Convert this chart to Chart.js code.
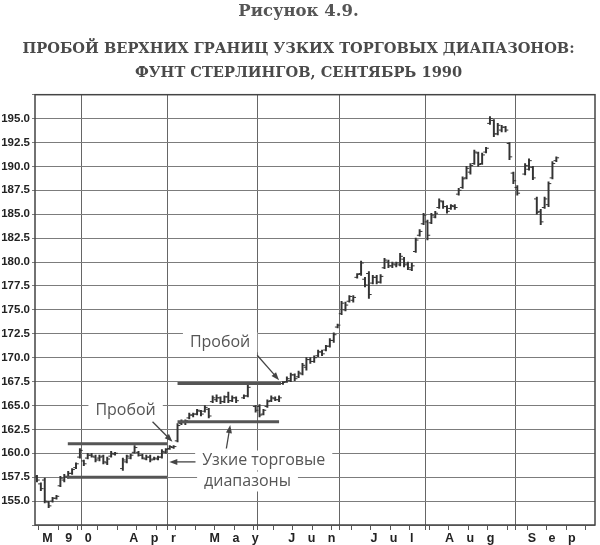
<!DOCTYPE html>
<html>
<head>
<meta charset="utf-8">
<script src="https://cdn.jsdelivr.net/npm/chart.js@4.4.1/dist/chart.umd.min.js"></script>
<style>
  html, body { margin: 0; padding: 0; background: #fff; }
  #wrap { width: 600px; height: 545px; }
</style>
</head>
<body>
<div id="wrap"><canvas id="chart"></canvas></div>
<script>
// --- DATA (x = trading day index from mid-March 1990) ---

const days = [0, 1, 2, 3, 4, 5, 6, 7, 8, 9, 10, 11, 12, 13, 14, 15, 16, 17, 18, 19, 20,
  22, 23, 24, 25, 26, 27, 28, 29, 30, 31, 32, 33, 34, 35, 36, 37, 38, 39, 40, 41, 42, 43, 44,
  45, 46, 47, 48, 49, 50, 51, 53, 54, 56, 57, 58, 59, 60, 61, 62, 63, 64, 65, 66, 67, 68, 69,
  70, 71, 72, 73, 74, 75, 76, 77, 78, 79, 80, 81, 82, 83, 84, 85, 86, 87, 88, 89, 90, 91, 92,
  93, 94, 95, 96, 97, 98, 99, 100, 101, 102, 103, 104, 105, 106, 107, 108, 109, 110, 111, 112,
  113, 114, 115, 116, 117, 118, 119, 120, 121, 122, 123, 125, 126, 127, 128, 129, 130, 131, 132, 133];

const opens = [157.6, 156.8, 157.2, 154.9, 155.0, 155.3, 156.6, 157.2, 157.5, 157.9, 158.5, 159.6, 159.2, 159.5, 159.8, 159.6, 159.5, 159.7, 159.0, 159.7, 159.9,
  158.4, 159.1, 159.5, 160.1, 160.1, 159.8, 159.4, 159.6, 159.4, 159.4, 159.6, 160.1, 160.5, 160.6, 161.3, 163.1, 163.2, 163.7, 164.0, 164.1, 164.4, 164.4, 164.6,
  165.4, 165.6, 165.8, 165.4, 165.9, 165.5, 165.8, 165.8, 166.0, 164.9, 164.9, 164.1, 164.9, 165.5, 165.7, 165.6, 167.3, 167.5, 167.6, 168.2, 168.0, 168.3, 169.0,
  169.8, 169.6, 170.2, 170.6, 170.8, 171.2, 171.8, 173.2, 174.6, 175.0, 175.9, 176.0, 178.4, 178.8, 178.2, 178.8, 177.8, 178.4, 177.9, 179.4, 180.0, 179.6, 179.7,
  179.7, 180.3, 179.8, 179.2, 181.1, 182.8, 184.0, 184.2, 184.1, 184.7, 185.7, 186.3, 185.8, 185.6, 185.8, 187.1, 187.8, 188.8, 189.4, 190.3,
  191.4, 190.3, 191.5, 194.5, 194.8, 193.4, 193.8, 194.1, 192.4, 189.3, 187.8, 189.2, 189.7, 189.9, 186.6, 185.3, 185.7, 186.0, 188.8, 190.6];

const highs = [157.7, 156.9, 157.4, 155.0, 155.4, 155.6, 157.6, 157.8, 158.1, 158.4, 159.0, 160.5, 159.3, 160.0, 160.0, 159.8, 159.8, 159.8, 159.6, 160.2, 160.1,
  159.5, 159.8, 159.9, 160.8, 160.2, 159.9, 159.8, 159.8, 159.6, 159.7, 160.4, 160.5, 160.8, 160.8, 163.1, 163.5, 163.5, 164.2, 164.2, 164.6, 164.5, 165.0, 164.7,
  166.0, 166.1, 165.9, 166.0, 166.4, 166.0, 165.9, 166.1, 167.1, 165.0, 165.1, 164.6, 165.6, 166.0, 165.9, 166.0, 167.5, 168.0, 168.4, 168.3, 168.6, 169.4, 170.0,
  170.0, 170.2, 170.8, 170.8, 171.3, 172.0, 172.6, 173.5, 175.9, 175.8, 176.5, 176.5, 178.8, 180.1, 178.4, 179.0, 178.6, 178.6, 178.7, 180.4, 180.2, 180.0, 180.0,
  180.9, 180.5, 180.0, 179.9, 182.5, 183.4, 185.1, 184.4, 185.1, 185.3, 186.6, 186.4, 185.9, 186.0, 186.0, 187.7, 188.9, 190.0, 190.3, 191.7,
  191.5, 191.4, 192.0, 195.2, 194.9, 194.5, 194.3, 194.2, 192.5, 189.4, 188.0, 190.3, 190.8, 190.0, 186.8, 185.5, 186.8, 188.4, 190.5, 191.0];

const lows = [157.0, 156.1, 154.8, 154.3, 154.9, 155.2, 156.5, 157.0, 157.4, 157.8, 158.4, 159.5, 158.7, 159.4, 159.6, 159.1, 159.2, 158.9, 158.8, 159.6, 159.8,
  158.2, 159.0, 159.4, 160.0, 159.7, 159.4, 159.3, 159.1, 159.3, 159.3, 159.5, 160.0, 160.4, 160.5, 161.2, 163.0, 163.0, 163.6, 163.8, 164.0, 163.9, 164.3, 163.7,
  165.3, 165.4, 165.2, 165.3, 165.3, 165.4, 165.3, 165.7, 165.9, 164.3, 163.8, 164.0, 164.8, 165.4, 165.5, 165.4, 167.2, 167.4, 167.5, 167.6, 167.9, 168.2, 168.7,
  169.4, 169.5, 170.1, 170.2, 170.7, 171.1, 171.6, 173.1, 174.5, 174.9, 175.8, 175.8, 178.3, 178.6, 177.4, 176.2, 177.7, 177.7, 177.8, 179.3, 179.4, 179.4, 179.5,
  179.6, 179.5, 179.2, 179.1, 181.0, 182.7, 183.9, 182.3, 184.0, 184.6, 185.6, 185.6, 185.1, 185.5, 185.5, 187.0, 187.7, 188.7, 189.2, 190.2,
  190.0, 190.2, 191.4, 194.4, 193.1, 193.3, 193.6, 193.6, 190.7, 188.2, 187.0, 189.1, 189.6, 188.6, 185.0, 183.9, 185.6, 185.8, 188.7, 190.5];

const closes = [157.2, 156.3, 155.0, 154.5, 155.3, 155.5, 157.4, 157.6, 157.9, 158.3, 158.9, 160.3, 158.9, 159.8, 159.7, 159.3, 159.6, 159.1, 159.4, 160.0, 160.0,
  159.3, 159.7, 159.8, 160.6, 159.8, 159.5, 159.6, 159.3, 159.5, 159.6, 160.2, 160.4, 160.7, 160.7, 162.9, 163.3, 163.4, 164.0, 164.1, 164.5, 164.1, 164.8, 163.9,
  165.8, 165.8, 165.4, 165.9, 165.5, 165.8, 165.5, 166.0, 166.9, 164.5, 164.0, 164.5, 165.4, 165.8, 165.6, 165.8, 167.4, 167.8, 168.2, 167.8, 168.4, 169.2, 169.8,
  169.6, 170.0, 170.6, 170.4, 171.2, 171.8, 172.4, 173.4, 175.7, 175.5, 176.4, 176.3, 178.7, 179.9, 177.6, 176.6, 178.4, 177.9, 178.5, 180.2, 179.6, 179.8, 179.9,
  180.6, 179.7, 179.4, 179.6, 182.3, 183.2, 184.9, 182.8, 184.9, 185.1, 186.4, 185.8, 185.3, 185.9, 185.7, 187.5, 188.7, 189.8, 190.1, 191.5,
  190.2, 191.2, 191.9, 195.0, 193.4, 194.3, 194.1, 193.8, 191.0, 188.5, 187.2, 190.1, 190.6, 188.8, 185.2, 184.2, 186.6, 188.2, 190.3, 190.9];

// month boundaries (vertical grid) and month labels on the time axis
const monthBounds = [11.5, 33.5, 56.5, 77.5, 99.5, 122.5];
const monthLabels = ['M\u2002\u20029\u2002\u20020', 'A\u2002\u2002p\u2002\u2002r', 'M\u2002\u2002a\u2002\u2002y',
  'J\u2002\u2002u\u2002\u2002n', 'J\u2002\u2002u\u2002\u2002l', 'A\u2002\u2002u\u2002\u2002g', 'S\u2002\u2002e\u2002\u2002p'];
const monthLabelDays = [7.7, 29.6, 50.5, 70.4, 90.9, 110.8, 131.8];

// price axis
const yTickValues = [152.5, 155, 157.5, 160, 162.5, 165, 167.5, 170, 172.5, 175, 177.5, 180,
  182.5, 185, 187.5, 190, 192.5, 195, 197.5];
const yTickLabels = ['', '155.0', '157.5', '160.0', '162.5', '165.0', '167.5', '170.0', '172.5',
  '175.0', '177.5', '180.0', '182.5', '185.0', '187.5', '190.0', '192.5', '195.0', ''];

// narrow trading ranges: [start day, end day, price]
const rangeLines = [
  [7.9, 33.3, 161.0],
  [7.7, 33.3, 157.5],
  [36.0, 62.5, 167.3],
  [36.0, 62.0, 163.3]
];

// notes and arrows (day, price)
const noteTexts = ['Пробой', 'Пробой', 'Узкие торговые', 'диапазоны'];
const noteDays = [22.7, 46.9, 42.3, 42.8];
const notePrices = [164.5, 171.6, 159.25, 157.05];
const noteAlign = ['center', 'center', 'left', 'left'];
const arrowFrom = [[29.6, 163.3], [56.4, 170.25], [40.6, 159.1], [48.5, 160.5]];
const arrowTo = [[34.7, 161.2], [62.0, 167.65], [33.9, 159.1], [49.5, 162.95]];

// --- AXIS TICKS ---

const xTicks = [];
for (let d = 0.5; d < 143; d += 5) xTicks.push({ value: d, kind: 'week', label: '' });
monthBounds.forEach(d => xTicks.push({ value: d, kind: 'month', label: '' }));
monthLabelDays.forEach((d, i) => xTicks.push({ value: d, kind: 'label', label: monthLabels[i] }));
xTicks.sort((a, b) => a.value - b.value);

const barColor = '#333';

// --- PLUGINS ---

function drawArrow(ctx, x1, y1, x2, y2) {
  const ang = Math.atan2(y2 - y1, x2 - x1);
  ctx.beginPath();
  ctx.moveTo(x1, y1);
  ctx.lineTo(x2 - 5 * Math.cos(ang), y2 - 5 * Math.sin(ang));
  ctx.stroke();
  ctx.beginPath();
  ctx.moveTo(x2, y2);
  ctx.lineTo(x2 - 8 * Math.cos(ang) + 3 * Math.sin(ang), y2 - 8 * Math.sin(ang) - 3 * Math.cos(ang));
  ctx.lineTo(x2 - 8 * Math.cos(ang) - 3 * Math.sin(ang), y2 - 8 * Math.sin(ang) + 3 * Math.cos(ang));
  ctx.closePath();
  ctx.fill();
}

const notesPlugin = {
  id: 'notes',
  beforeDatasetsDraw(chart) {
    // white boxes behind the notes cover the grid
    const { ctx, scales: { x, y } } = chart;
    ctx.save();
    ctx.font = '16px "Open Sans"';
    ctx.fillStyle = '#fff';
    noteTexts.forEach((t, i) => {
      const w = ctx.measureText(t).width;
      const px = x.getPixelForValue(noteDays[i]);
      const py = y.getPixelForValue(notePrices[i]);
      const left = noteAlign[i] === 'center' ? px - w / 2 : px;
      ctx.fillRect(left - 7, py - 10, w + 14, 20);
    });
    ctx.restore();
  },
  afterDatasetsDraw(chart) {
    const { ctx, scales: { x, y } } = chart;
    ctx.save();
    ctx.font = '16px "Open Sans"';
    ctx.fillStyle = '#555';
    ctx.textBaseline = 'middle';
    noteTexts.forEach((t, i) => {
      ctx.textAlign = noteAlign[i];
      ctx.fillText(t, x.getPixelForValue(noteDays[i]), y.getPixelForValue(notePrices[i]));
    });
    ctx.strokeStyle = '#444';
    ctx.fillStyle = '#444';
    ctx.lineWidth = 1.3;
    arrowFrom.forEach((f, i) => {
      const t = arrowTo[i];
      drawArrow(ctx, x.getPixelForValue(f[0]), y.getPixelForValue(f[1]),
        x.getPixelForValue(t[0]), y.getPixelForValue(t[1]));
    });
    ctx.restore();
  },
  afterDraw(chart) {
    const { ctx, chartArea: a } = chart;
    ctx.save();
    ctx.strokeStyle = '#444';
    ctx.lineWidth = 1.5;
    ctx.strokeRect(a.left, a.top, a.right - a.left, a.bottom - a.top);
    ctx.restore();
  }
};

// --- CHART ---

const datasets = [
  {
    type: 'bar',
    data: days.map((d, i) => ({ x: d, y: [lows[i], highs[i]] })),
    backgroundColor: barColor,
    barThickness: 1.3,
    grouped: false,
    order: 2
  },
  {
    type: 'line',
    showLine: false,
    data: days.map((d, i) => ({ x: d - 0.35, y: opens[i] })),
    pointStyle: 'line',
    pointRadius: 1.4,
    pointBorderWidth: 1,
    pointBorderColor: barColor,
    order: 1
  },
  {
    type: 'line',
    showLine: false,
    data: days.map((d, i) => ({ x: d + 0.35, y: closes[i] })),
    pointStyle: 'line',
    pointRadius: 1.4,
    pointBorderWidth: 1,
    pointBorderColor: barColor,
    order: 1
  }
];

rangeLines.forEach(r => {
  datasets.push({
    type: 'line',
    data: [{ x: r[0], y: r[2] }, { x: r[1], y: r[2] }],
    borderColor: '#555',
    borderWidth: 3,
    pointRadius: 0,
    order: 0
  });
});

new Chart(document.getElementById('chart'), {
  type: 'bar',
  data: { datasets },
  options: {
    responsive: true,
    maintainAspectRatio: false,
    animation: false,
    events: [],
    layout: { padding: { left: 0, right: 3, top: 0, bottom: 0 } },
    plugins: {
      legend: { display: false },
      tooltip: { enabled: false },
      title: {
        display: true,
        text: 'Рисунок 4.9.',
        color: '#555',
        font: { family: 'DejaVu Serif', size: 16.5, weight: 'bold', lineHeight: 1.2 },
        padding: { top: 2, bottom: 15 }
      },
      subtitle: {
        display: true,
        text: ['ПРОБОЙ ВЕРХНИХ ГРАНИЦ УЗКИХ ТОРГОВЫХ ДИАПАЗОНОВ:', 'ФУНТ СТЕРЛИНГОВ, СЕНТЯБРЬ 1990'],
        color: '#4a4a4a',
        font: { family: 'DejaVu Serif', size: 14.6, weight: 'bold', lineHeight: 1.64 },
        padding: { top: 0, bottom: 10 }
      }
    },
    scales: {
      x: {
        type: 'linear',
        min: -0.5,
        max: 142.9,
        offset: false,
        afterBuildTicks: s => { s.ticks = xTicks.map(t => ({ value: t.value })); },
        afterFit: s => { s.height = 20; },
        ticks: {
          autoSkip: false,
          maxRotation: 0,
          padding: 1,
          color: '#222',
          font: { family: 'Liberation Sans', size: 12.5, weight: 'bold' },
          callback: (v, i) => xTicks[i] ? xTicks[i].label : ''
        },
        grid: {
          offset: false,
          tickLength: 5,
          lineWidth: 1,
          color: c => (xTicks[c.index] && xTicks[c.index].kind === 'month') ? '#666' : 'rgba(0,0,0,0)',
          tickColor: c => (xTicks[c.index] && xTicks[c.index].kind !== 'label') ? '#555' : 'rgba(0,0,0,0)'
        },
        border: { display: false }
      },
      y: {
        type: 'linear',
        min: 152.5,
        max: 197.5,
        afterBuildTicks: s => { s.ticks = yTickValues.map(v => ({ value: v })); },
        afterFit: s => { s.width = 35; },
        ticks: {
          padding: 2,
          color: '#222',
          font: { family: 'Liberation Sans', size: 11.5, weight: 'bold' },
          callback: (v, i) => yTickLabels[i]
        },
        grid: { color: '#7c7c7c', lineWidth: 1, tickLength: 3, tickColor: '#7c7c7c' },
        border: { display: false }
      }
    }
  },
  plugins: [notesPlugin]
});
</script>
</body>
</html>
